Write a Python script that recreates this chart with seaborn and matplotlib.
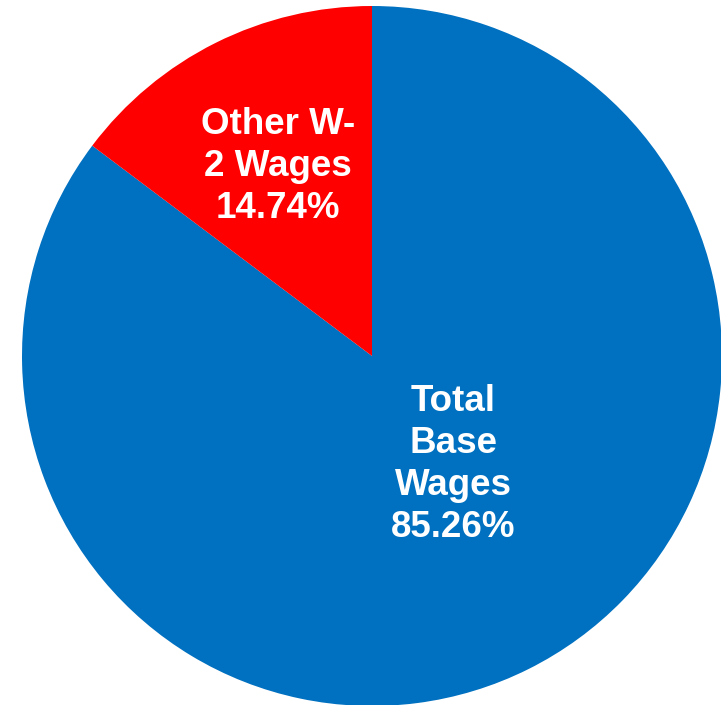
import matplotlib
matplotlib.use("Agg")
import matplotlib.pyplot as plt
import seaborn as sns

# Wage composition
labels = ["Total\nBase\nWages", "Other W-\n2 Wages"]
shares = [85.26, 14.74]
colors = ["#0070C0", "#FF0000"]

sns.set_theme(style="white")
plt.rcParams['font.family'] = ['Liberation Sans', 'DejaVu Sans']

fig = plt.figure(figsize=(7.21, 7.05), dpi=100)
ax = fig.add_axes([22 / 721, -1 / 705, 700 / 721, 700 / 705])

wedges, _ = ax.pie(shares, colors=colors, startangle=90, counterclock=False,
                   radius=1, wedgeprops=dict(linewidth=0))

# label positions inside each wedge
label_pos = [(0.233, -0.309), (-0.269, 0.541)]
for lab, val, (x, y) in zip(labels, shares, label_pos):
    ax.text(x, y, f"{lab}\n{val:.2f}%", ha="center", va="center",
            color="white", fontsize=26.5, fontweight="bold", linespacing=1.26)

ax.set_xlim(-1, 1)
ax.set_ylim(-1, 1)
ax.set_aspect("equal")
ax.axis("off")

fig.savefig("out.png", dpi=100)
